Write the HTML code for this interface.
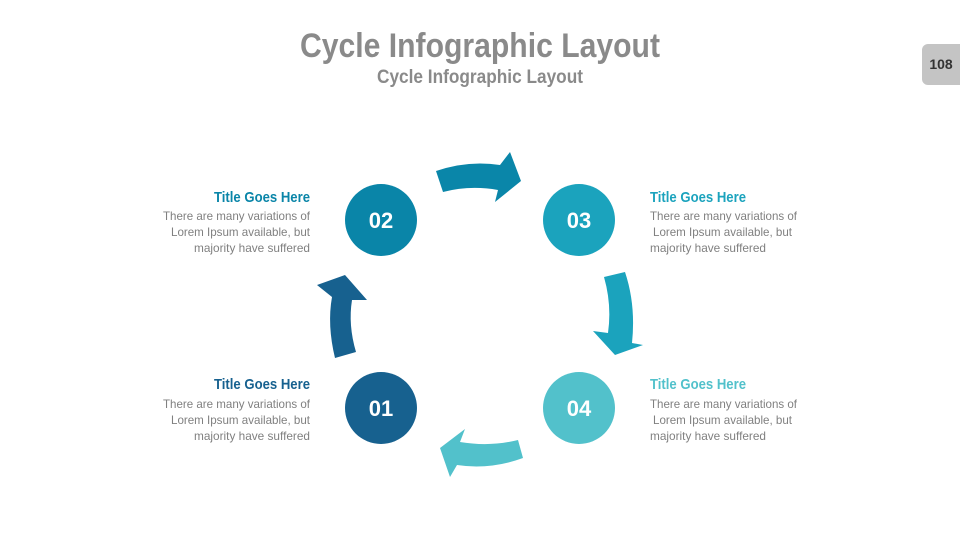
<!DOCTYPE html>
<html><head><meta charset="utf-8"><style>
html,body{margin:0;padding:0;background:#fff;}
svg{display:block;}
text{font-family:"Liberation Sans Narrow","Liberation Sans",sans-serif;}
</style></head><body>
<svg width="960" height="540" viewBox="0 0 960 540" xmlns="http://www.w3.org/2000/svg">
<rect width="960" height="540" fill="#fff"/>
<text x="480" y="57" text-anchor="middle" font-size="34" font-weight="bold" fill="#8a8a8a" textLength="360" lengthAdjust="spacingAndGlyphs">Cycle Infographic Layout</text>
<text x="480" y="83" text-anchor="middle" font-size="19" font-weight="bold" fill="#8a8a8a" textLength="206" lengthAdjust="spacingAndGlyphs">Cycle Infographic Layout</text>
<rect x="922" y="44" width="50" height="41" rx="6" fill="#c4c4c4"/>
<text x="941" y="69" text-anchor="middle" font-size="14" font-weight="bold" fill="#333">108</text>

<path d="M436,171 Q468,160 500,165 L510,152 L521,181 L495,202 L498,190 Q470,185 443,192 Z" fill="#0a86a9"/>
<path d="M604,277 L625,272 Q636,305 632,343 L643,345 L615,355 L593,331 L608,333 Q612,305 604,277 Z" fill="#1ba3bd"/>
<path d="M518,440 L523,458 Q490,470 457,465 L450,477 L440,448 L465,429 L460,442 Q490,447 518,440 Z" fill="#52c1cb"/>
<path d="M335,358 L356,352 Q348,325 352,300 L367,300 L345,275 L317,285 L332,297 Q327,325 335,358 Z" fill="#17618f"/>

<circle cx="381" cy="220" r="36" fill="#0a85a8"/>
<circle cx="579" cy="220" r="36" fill="#1ba3bd"/>
<circle cx="381" cy="408" r="36" fill="#17618f"/>
<circle cx="579" cy="408" r="36" fill="#52c1cb"/>
<g font-size="22" font-weight="bold" fill="#fff" text-anchor="middle">
<text x="381" y="228">02</text><text x="579" y="228">03</text>
<text x="381" y="416">01</text><text x="579" y="416">04</text>
</g>

<g text-anchor="end">
<text x="310" y="202" font-size="15" font-weight="bold" fill="#0a85a8" textLength="96" lengthAdjust="spacingAndGlyphs">Title Goes Here</text>
<g font-size="12" fill="#808080">
<text x="310" y="220" textLength="147" lengthAdjust="spacingAndGlyphs">There are many variations of</text>
<text x="310" y="236" textLength="139" lengthAdjust="spacingAndGlyphs">Lorem Ipsum available, but</text>
<text x="310" y="252" textLength="116" lengthAdjust="spacingAndGlyphs">majority have suffered</text>
</g>
<text x="310" y="389" font-size="15" font-weight="bold" fill="#17618f" textLength="96" lengthAdjust="spacingAndGlyphs">Title Goes Here</text>
<g font-size="12" fill="#808080">
<text x="310" y="408" textLength="147" lengthAdjust="spacingAndGlyphs">There are many variations of</text>
<text x="310" y="424" textLength="139" lengthAdjust="spacingAndGlyphs">Lorem Ipsum available, but</text>
<text x="310" y="440" textLength="116" lengthAdjust="spacingAndGlyphs">majority have suffered</text>
</g>
</g>
<g>
<text x="650" y="202" font-size="15" font-weight="bold" fill="#1ba3bd" textLength="96" lengthAdjust="spacingAndGlyphs">Title Goes Here</text>
<g font-size="12" fill="#808080">
<text x="650" y="220" textLength="147" lengthAdjust="spacingAndGlyphs">There are many variations of</text>
<text x="653" y="236" textLength="139" lengthAdjust="spacingAndGlyphs">Lorem Ipsum available, but</text>
<text x="650" y="252" textLength="116" lengthAdjust="spacingAndGlyphs">majority have suffered</text>
</g>
<text x="650" y="389" font-size="15" font-weight="bold" fill="#52c1cb" textLength="96" lengthAdjust="spacingAndGlyphs">Title Goes Here</text>
<g font-size="12" fill="#808080">
<text x="650" y="408" textLength="147" lengthAdjust="spacingAndGlyphs">There are many variations of</text>
<text x="653" y="424" textLength="139" lengthAdjust="spacingAndGlyphs">Lorem Ipsum available, but</text>
<text x="650" y="440" textLength="116" lengthAdjust="spacingAndGlyphs">majority have suffered</text>
</g>
</g>
</svg>
</body></html>
